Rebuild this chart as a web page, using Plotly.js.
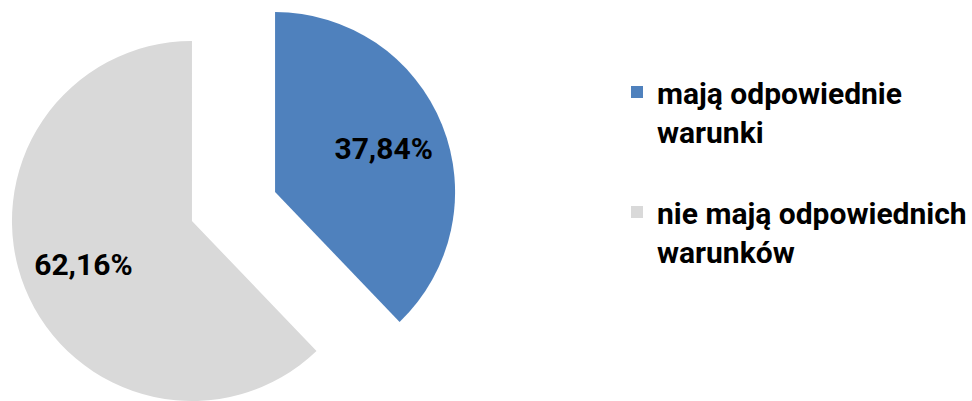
<!DOCTYPE html>
<html>
<head>
<meta charset="utf-8">
<script src="https://cdn.plot.ly/plotly-3.0.1.min.js"></script>
<style>
html,body{margin:0;padding:0;overflow:hidden;background:#fff;}
#chart{width:972px;height:401px;}
</style>
</head>
<body>
<div id="chart"></div>
<script>
// Data
const categories = ['mają odpowiednie<br>warunki<br> ', 'nie mają odpowiednich<br>warunków<br> '];
const shares = [37.84, 62.16];
const sliceColors = ['#4F81BD', '#D9D9D9'];
const hidden = 'rgba(0,0,0,0)';

const labelFont = {family: 'Roboto, "Open Sans", sans-serif', size: 30, color: '#000', weight: 700};

const domGrey = {x: [0.005, 0.39], y: [0, 0.8978]};
const domBlue = {x: [0.033, 0.533], y: [0.0723, 0.9701]};

function basePie(domain) {
  return {
    type: 'pie',
    labels: categories,
    values: shares,
    sort: false,
    direction: 'clockwise',
    rotation: 0,
    domain: domain,
    showlegend: false,
    hoverinfo: 'skip'
  };
}

function slicePie(visibleIndex, domain) {
  return Object.assign(basePie(domain), {
    marker: {
      colors: sliceColors.map((c, i) => i === visibleIndex ? c : hidden),
      line: {width: 0}
    },
    textinfo: 'none'
  });
}

// transparent ring carrying the percentage label further out in the slice
function labelPie(visibleIndex, domain) {
  return Object.assign(basePie(domain), {
    hole: 0.3,
    marker: {colors: sliceColors.map(() => hidden), line: {width: 0}},
    texttemplate: categories.map((c, i) => i === visibleIndex ? '%{percent:.2%}' : ''),
    textposition: 'inside',
    insidetextorientation: 'horizontal',
    insidetextfont: labelFont
  });
}

const traces = [
  slicePie(1, domGrey),
  slicePie(0, domBlue),
  labelPie(1, domGrey),
  labelPie(0, domBlue),
  // legend carrier (tiny, invisible)
  {
    type: 'pie',
    labels: categories,
    values: shares,
    sort: false,
    direction: 'clockwise',
    domain: {x: [0.998, 1], y: [0, 0.002]},
    marker: {colors: sliceColors, line: {width: 0}},
    textinfo: 'none',
    hoverinfo: 'skip',
    showlegend: true
  }
];

const layout = {
  width: 972,
  height: 401,
  margin: {l: 0, r: 0, t: 0, b: 0},
  paper_bgcolor: '#fff',
  separators: ', ',
  showlegend: true,
  legend: {
    x: 617 / 972,
    y: 1 - 66 / 401,
    xanchor: 'left',
    yanchor: 'top',
    valign: 'top',
    traceorder: 'normal',
    font: {family: 'Roboto, "Open Sans", sans-serif', size: 30, color: '#000', weight: 700},
    bgcolor: 'rgba(0,0,0,0)'
  }
};

Plotly.newPlot('chart', traces, layout, {displayModeBar: false, staticPlot: true});
</script>
</body>
</html>
